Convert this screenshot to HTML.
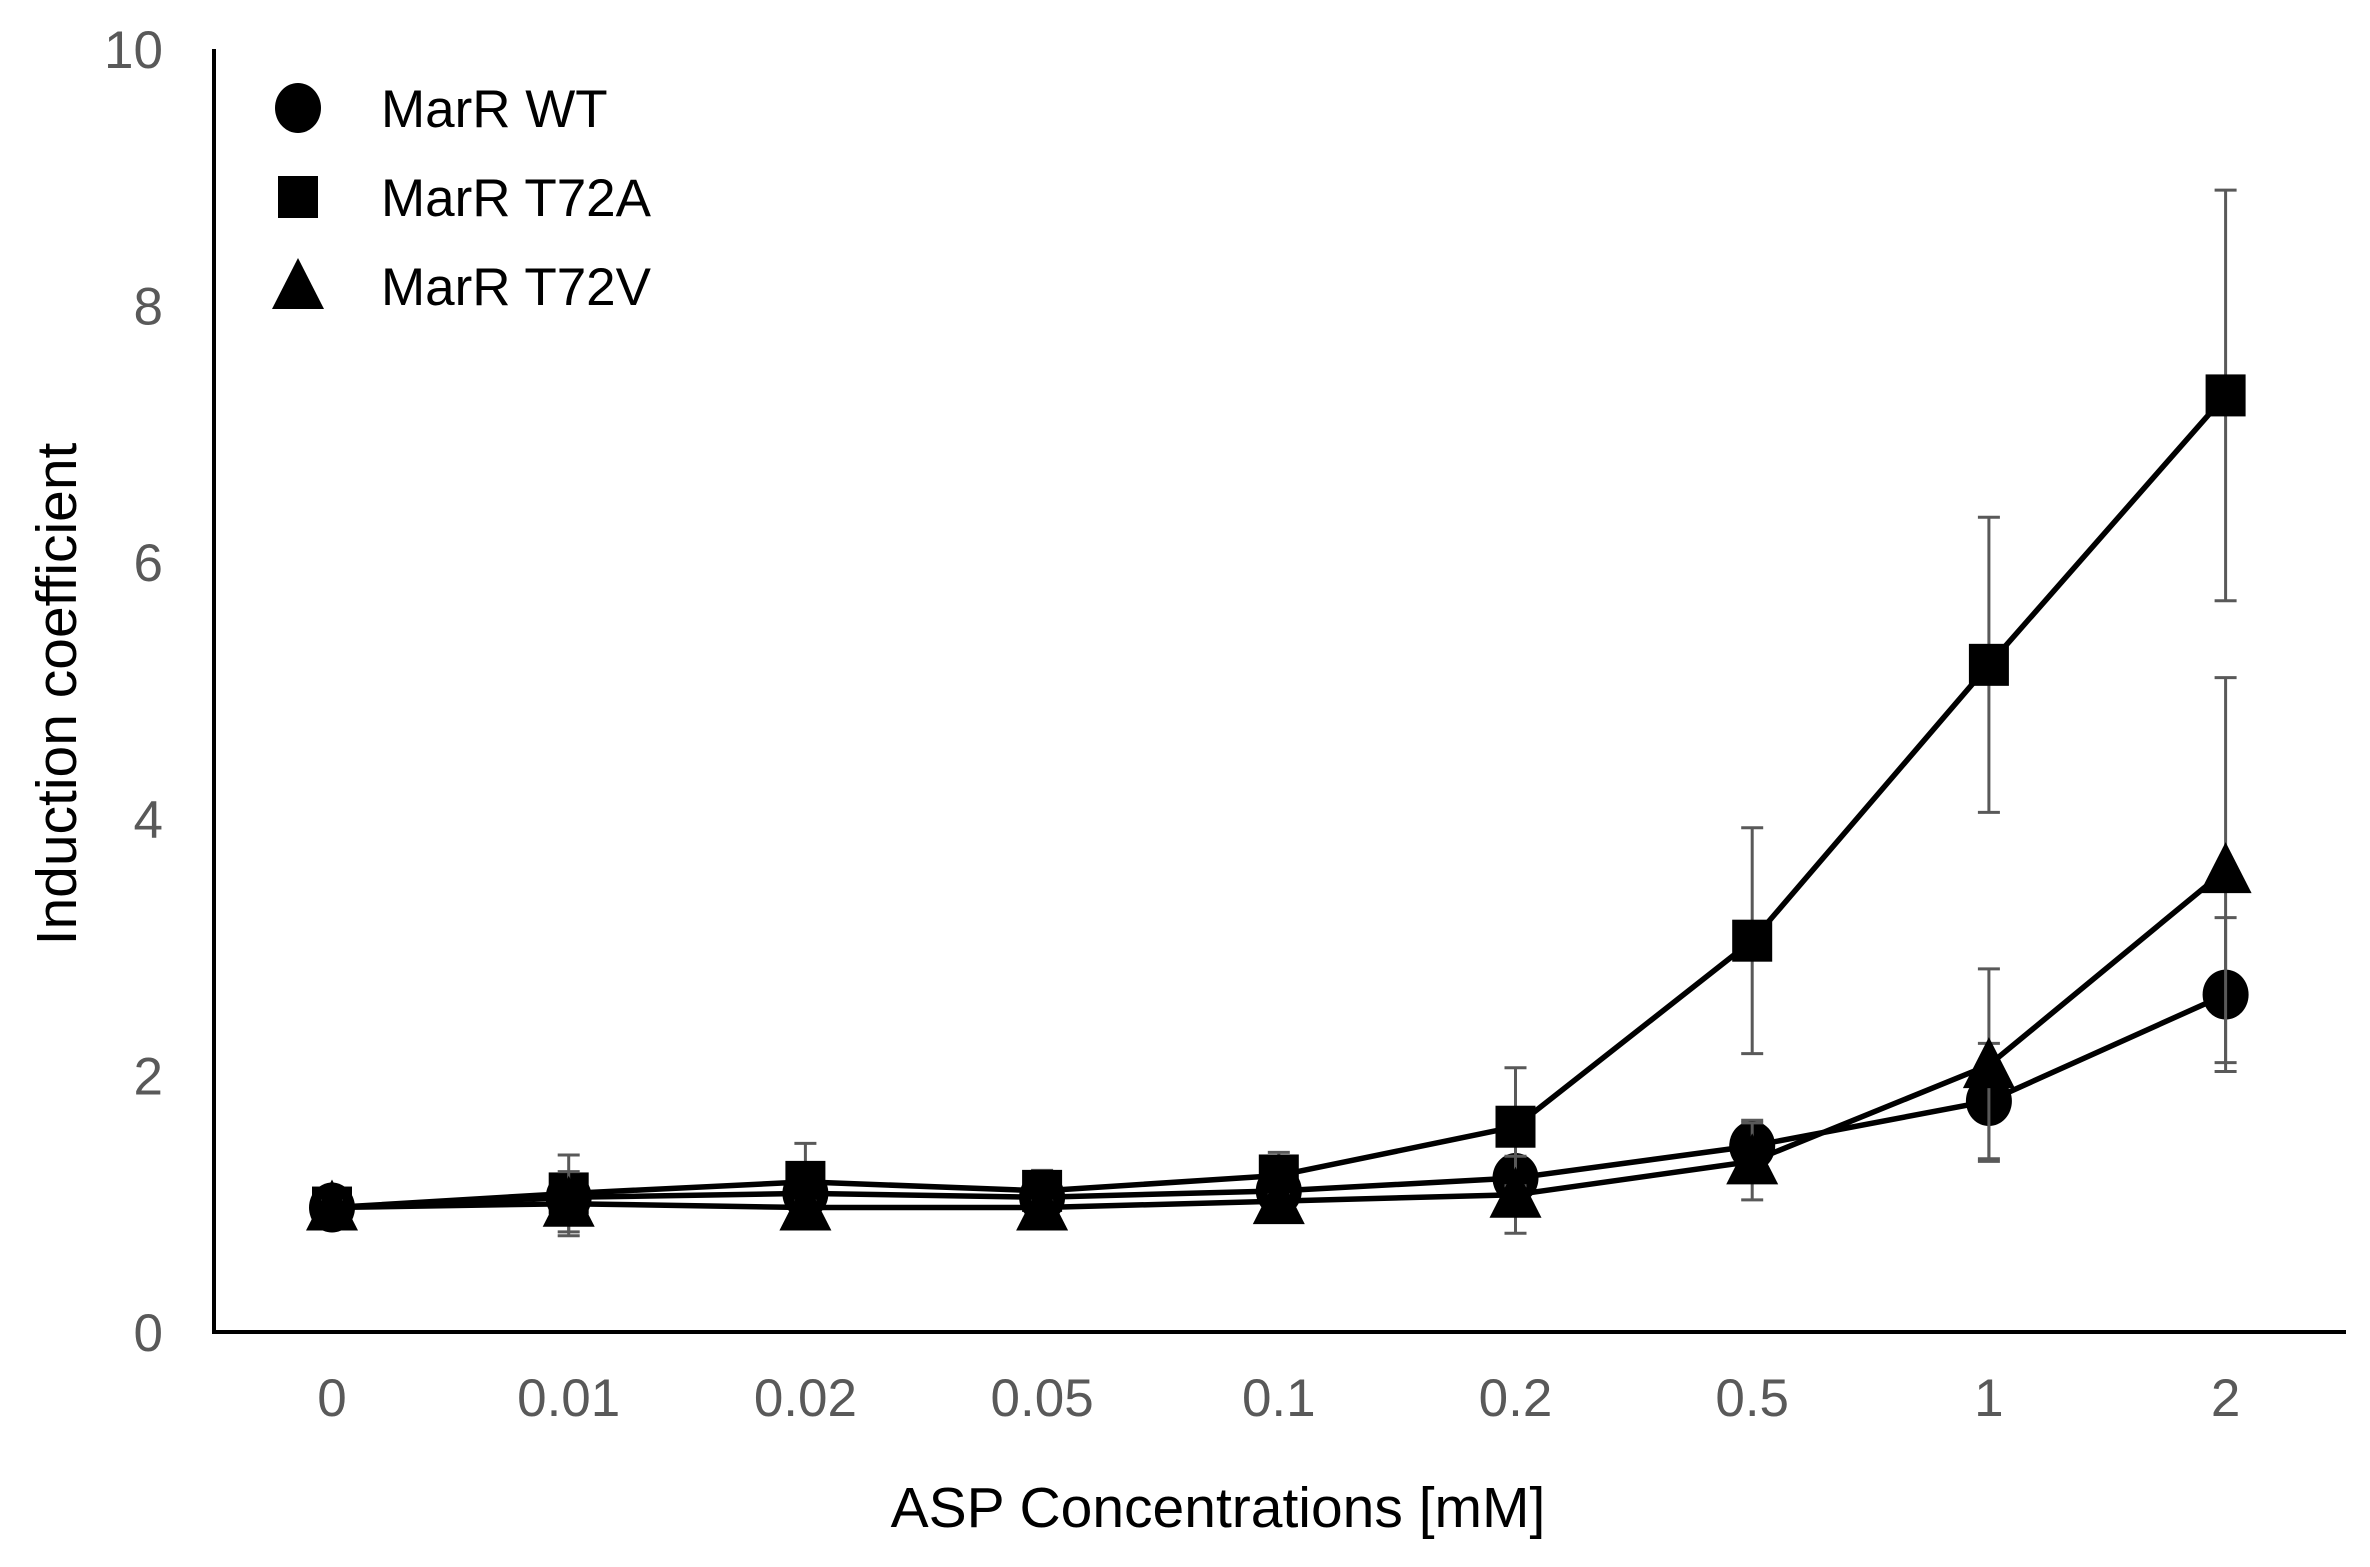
<!DOCTYPE html>
<html><head><meta charset="utf-8"><style>
html,body{margin:0;padding:0;background:#fff;}
svg{display:block;font-family:"Liberation Sans",Arial,sans-serif;}
</style></head><body>
<svg id="chart" width="2370" height="1567" viewBox="0 0 2370 1567" xmlns="http://www.w3.org/2000/svg">
<g id="axes"></g>
<g id="marks"></g>
<g id="legend"></g>
<text x="1218" y="1527" font-size="57" text-anchor="middle" fill="#000">ASP Concentrations [mM]</text>
<text transform="translate(76,694) rotate(-90)" font-size="57" text-anchor="middle" fill="#000">Induction coefficient</text>
</svg>
<script>
const categories = ["0","0.01","0.02","0.05","0.1","0.2","0.5","1","2"];
const yTicks = [0,2,4,6,8,10];
const seriesNames = ["MarR WT","MarR T72A","MarR T72V"];
const wtValues = [0.97,1.05,1.08,1.05,1.1,1.2,1.45,1.8,2.63];
const wtErrors = [0.05,0.1,0.1,0.05,0.08,0.15,0.2,0.45,0.6];
const t72aValues = [0.97,1.08,1.17,1.1,1.22,1.6,3.05,5.2,7.3];
const t72aErrors = [0.05,0.3,0.3,0.16,0.18,0.46,0.88,1.15,1.6];
const t72vValues = [0.97,1.0,0.97,0.97,1.02,1.07,1.33,2.08,3.6];
const t72vErrors = [0.05,0.25,0.05,0.05,0.05,0.3,0.3,0.75,1.5];

const NS="http://www.w3.org/2000/svg";
const X0=332, DX=236.7, Y0=1332, YPX=128.3;
function xs(i){return X0+i*DX;}
function ys(v){return Y0-v*YPX;}
function mk(tag,attrs,parent){const e=document.createElementNS(NS,tag);for(const k in attrs)e.setAttribute(k,attrs[k]);parent.appendChild(e);return e;}
const axes=document.getElementById('axes'), marks=document.getElementById('marks'), legend=document.getElementById('legend');

let a=mk('line',{x1:214,y1:ys(10),x2:214,y2:Y0+2,stroke:'#000','stroke-width':4},axes);


a=mk('line',{x1:212,y1:Y0,x2:2346,y2:Y0,stroke:'#000','stroke-width':4},axes);


yTicks.forEach(t=>{
  const e=mk('text',{x:163,y:ys(t)+19,'font-size':53,'text-anchor':'end',fill:'#595959'},axes);
  e.textContent=t;
  
  
});
categories.forEach((c,i)=>{
  const e=mk('text',{x:xs(i),y:1416,'font-size':53,'text-anchor':'middle',fill:'#595959'},axes);
  e.textContent=c;
  
  
});

function marker(kind,cx,cy,parent){
  let e;
  if(kind==='circle') e=mk('ellipse',{cx:cx,cy:cy,rx:23,ry:25,fill:'#000'},parent);
  else if(kind==='square') e=mk('rect',{x:cx-20,y:cy-21,width:40,height:42,fill:'#000'},parent);
  else e=mk('polygon',{points:`${cx},${cy-28} ${cx+26},${cy+23} ${cx-26},${cy+23}`,fill:'#000'},parent);
  return e;
}
const series=[[wtValues,wtErrors,'circle','wt'],[t72aValues,t72aErrors,'square','t72a'],[t72vValues,t72vErrors,'triangle','t72v']];
series.forEach(([vals,errs,kind,id])=>{
  const g=mk('g',{},marks);
  
  
  const pts=vals.map((v,i)=>xs(i)+','+ys(v)).join(' ');
  const l=mk('polyline',{points:pts,fill:'none',stroke:'#000','stroke-width':5.5,'stroke-linejoin':'round'},g);
  
  
  vals.forEach((v,i)=>{
    const x=xs(i), hi=ys(v+errs[i]), lo=ys(v-errs[i]);
    const eb=mk('path',{d:`M${x},${hi}V${lo}M${x-11},${hi}H${x+11}M${x-11},${lo}H${x+11}`,stroke:'#595959','stroke-width':3,fill:'none'},g);
    
    
  });
  vals.forEach((v,i)=>{
    const m=marker(kind,xs(i),ys(v),g);
    
    
  });
});
const legY=[108,197,286], kinds=['circle','square','triangle'];
seriesNames.forEach((n,i)=>{
  const g=mk('g',{},legend);
  
  
  marker(kinds[i],298,legY[i],g);
  const t=mk('text',{x:381,y:legY[i]+19,'font-size':53,fill:'#000'},g);
  t.textContent=n;
});
</script>
</body></html>
